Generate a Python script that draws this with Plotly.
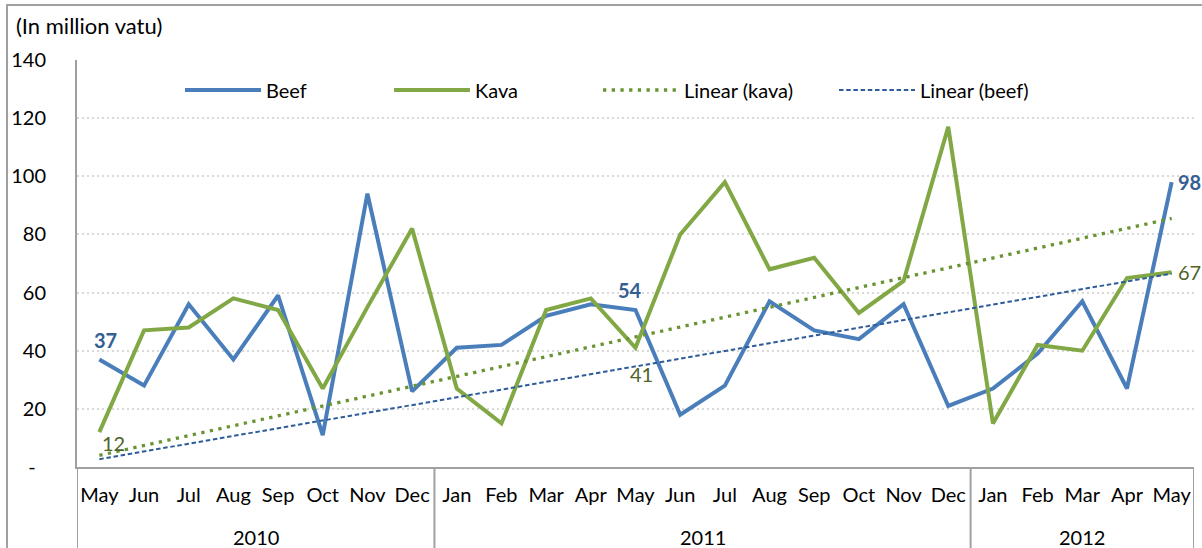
import plotly.graph_objects as go

# ---------------- data ----------------
years = ["2010"] * 8 + ["2011"] * 12 + ["2012"] * 5
months = ["May", "Jun", "Jul", "Aug", "Sep", "Oct", "Nov", "Dec",
          "Jan", "Feb", "Mar", "Apr", "May", "Jun", "Jul", "Aug", "Sep", "Oct", "Nov", "Dec",
          "Jan", "Feb", "Mar", "Apr", "May"]
beef = [37, 28, 56, 37, 59, 11, 94, 26, 41, 42, 52, 56, 54, 18, 28, 57, 47, 44, 56, 21, 27, 39, 57, 27, 98]
kava = [12, 47, 48, 58, 54, 27, 55, 82, 27, 15, 54, 58, 41, 80, 98, 68, 72, 53, 64, 117, 15, 42, 40, 65, 67]
# linear trend end points (first and last month)
kava_trend = [4, 85.5]
beef_trend = [2.7, 66.5]
y_tick_vals = [0, 20, 40, 60, 80, 100, 120, 140]
y_tick_text = ["-\u00a0\u00a0", "20", "40", "60", "80", "100", "120", "140"]

# ---------------- styles ----------------
FONT = "Lato"
FS = 20
BEEF_C = "#4A7EBB"
KAVA_C = "#82A845"
BEEF_TREND_C = "#2E5C9A"
KAVA_TREND_C = "#6A9433"
BEEF_LBL_C = "#365F91"
KAVA_LBL_C = "#4F6228"
AXIS_C = "#A0A0A0"

W, H = 1202, 548
L, R, T, B = 77, 8, 60, 81
PW, PH = W - L - R, H - T - B


def px_x(p):
    return (p - L) / PW


def px_y(p):
    return (H - B - p) / PH


# unique category keys (month + year); month names shown as tick text
x_keys = [m + " " + y for m, y in zip(months, years)]
x_ends = [x_keys[0], x_keys[-1]]

fig = go.Figure()
fig.add_trace(go.Scatter(x=x_keys, y=beef, mode="lines", name="Beef",
                         line=dict(color=BEEF_C, width=4), legend="legend"))
fig.add_trace(go.Scatter(x=x_keys, y=kava, mode="lines", name="Kava",
                         line=dict(color=KAVA_C, width=4), legend="legend2"))
fig.add_trace(go.Scatter(x=x_ends, y=kava_trend, mode="lines", name="Linear (kava)",
                         line=dict(color=KAVA_TREND_C, width=3.3, dash="3.3px,5.4px"), legend="legend3"))
fig.add_trace(go.Scatter(x=x_ends, y=beef_trend, mode="lines", name="Linear (beef)",
                         line=dict(color=BEEF_TREND_C, width=2, dash="4.5px,2.7px"), legend="legend4"))

# data labels
lbl_font_b = dict(family=FONT, size=FS, color=BEEF_LBL_C)
lbl_font_k = dict(family=FONT, size=FS, color=KAVA_LBL_C)
fig.add_annotation(x=x_keys[0], y=beef[0], text="<b>%d</b>" % beef[0], showarrow=False,
                   font=lbl_font_b, xshift=6, yshift=19)
fig.add_annotation(x=x_keys[0], y=kava[0], text="%d" % kava[0], showarrow=False,
                   font=lbl_font_k, xshift=14, yshift=-11)
fig.add_annotation(x=x_keys[12], y=beef[12], text="<b>%d</b>" % beef[12], showarrow=False,
                   font=lbl_font_b, xshift=-6, yshift=20)
fig.add_annotation(x=x_keys[12], y=kava[12], text="%d" % kava[12], showarrow=False,
                   font=lbl_font_k, xshift=6, yshift=-26)
fig.add_annotation(x=x_keys[-1], y=beef[-1], text="<b>%d</b>" % beef[-1], showarrow=False,
                   font=lbl_font_b, xanchor="left", xshift=4)
fig.add_annotation(x=x_keys[-1], y=kava[-1], text="%d" % kava[-1], showarrow=False,
                   font=lbl_font_k, xanchor="left", xshift=4)

# title
fig.add_annotation(text="(In million vatu)", xref="paper", yref="paper", x=px_x(14), y=px_y(25),
                   xanchor="left", yanchor="middle", showarrow=False,
                   font=dict(family=FONT, size=22, color="#000000"))

# year group labels and dividers (second level of the category axis)
shapes = []
groups = []
for i, y in enumerate(years):
    if not groups or groups[-1][0] != y:
        groups.append([y, i, i])
    else:
        groups[-1][2] = i
bounds = set()
for y, i0, i1 in groups:
    fig.add_annotation(x=(i0 + i1) / 2, y=px_y(537), xref="x", yref="paper", text=y,
                       showarrow=False, yanchor="middle",
                       font=dict(family=FONT, size=FS, color="#000000"))
    bounds.add(i0 - 0.5)
    bounds.add(i1 + 0.5)
for bx in sorted(bounds):
    shapes.append(dict(type="line", xref="x", yref="paper", x0=bx, x1=bx, y0=0, y1=px_y(560),
                       line=dict(color=AXIS_C, width=2)))

# outer chart border
shapes.append(dict(type="rect", xref="paper", yref="paper", x0=px_x(7), x1=px_x(1215),
                   y0=px_y(560), y1=px_y(5), line=dict(color=AXIS_C, width=2), layer="below"))

leg_common = dict(orientation="h", yanchor="middle", xanchor="left", bgcolor="rgba(0,0,0,0)",
                  borderwidth=0, font=dict(family=FONT, size=FS, color="#000000"), itemwidth=76)
leg_y = px_y(90)

fig.update_layout(
    width=W, height=H,
    margin=dict(l=L, r=R, t=T, b=B, pad=0, autoexpand=False),
    paper_bgcolor="white", plot_bgcolor="white",
    font=dict(family=FONT, size=FS, color="#000000"),
    showlegend=True,
    legend=dict(x=px_x(180), y=leg_y, **leg_common),
    legend2=dict(x=px_x(389), y=leg_y, **leg_common),
    legend3=dict(x=px_x(598), y=leg_y, **leg_common),
    legend4=dict(x=px_x(834), y=leg_y, **leg_common),
    xaxis=dict(type="category", categoryorder="array", categoryarray=x_keys,
               tickvals=x_keys, ticktext=months, range=[-0.5, len(x_keys) - 0.5],
               showline=True, linecolor=AXIS_C, linewidth=2,
               showgrid=False, ticks="", ticklabelstandoff=9, automargin=False,
               tickfont=dict(family=FONT, size=FS, color="#000000")),
    yaxis=dict(range=[0, 140], tickvals=y_tick_vals, ticktext=y_tick_text,
               showline=True, linecolor=AXIS_C, linewidth=2, zeroline=False,
               showgrid=True, gridcolor="#D9D9D9", gridwidth=1.5, griddash="2px,3px",
               ticks="", ticklabelstandoff=25, automargin=False,
               tickfont=dict(family=FONT, size=FS, color="#000000")),
    shapes=shapes,
)

fig.write_html("out.html", config={"displayModeBar": False},
               post_script="document.body.style.margin='0px';")
